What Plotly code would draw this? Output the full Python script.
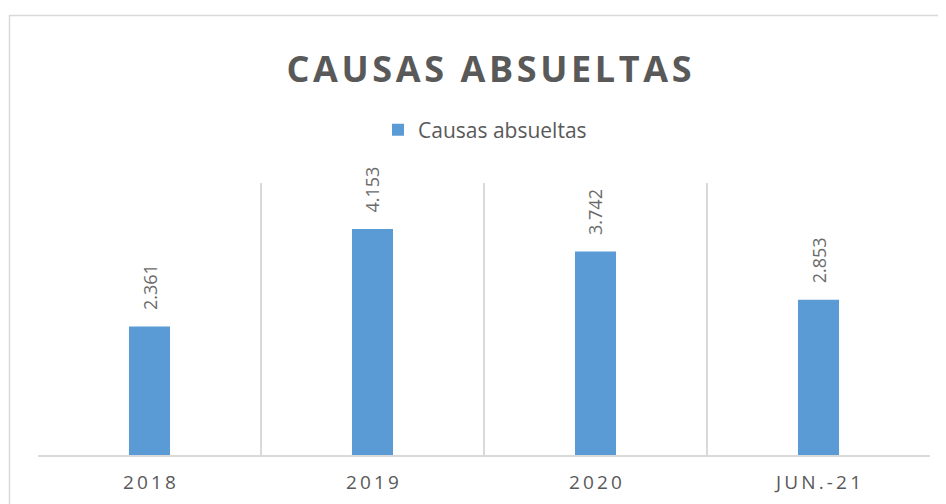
import plotly.graph_objects as go

categories = ["2018", "2019", "2020", "JUN.-21"]
values = [2361, 4153, 3742, 2853]
series_name = "Causas absueltas"
title_text = "CAUSAS ABSUELTAS"

GREY = "#595959"
LABEL_GREY = "#6b6b6b"
BLUE = "#5b9bd5"
LINE = "#d9d9d9"
FONT = "Open Sans, sans-serif"

def spaced(s, sep="\u200a"):
    return sep.join(list(s))

OFF = 8  # default body margin of the page
W, H = 946 - OFF, 504 - OFF
L, T = 38 - OFF, 183 - OFF
R = W - (930 - OFF)
B = H - (455 - OFF)
pw, ph = W - L - R, H - T - B

def px2x(p):
    return (p - OFF - L) / pw

def py2y(p):
    return 1 - (p - OFF - T) / ph

fig = go.Figure()
fig.add_trace(go.Bar(
    x=categories, y=values, name=series_name,
    marker=dict(color=BLUE, line=dict(width=0)),
    width=0.184, showlegend=True,
))

annotations = [
    dict(x=i, y=v, xref="x", yref="y", text=f"{v:,}".replace(",", "."),
         textangle=-90, showarrow=False, xanchor="center", yanchor="bottom",
         yshift=14, font=dict(family=FONT, size=18, color=LABEL_GREY))
    for i, v in enumerate(values)
]

fig.update_layout(
    width=W, height=H,
    margin=dict(l=L, r=R, t=T, b=B, autoexpand=False),
    paper_bgcolor="white", plot_bgcolor="white",
    separators=",.",
    title=dict(text="<b>" + spaced(title_text, "\u200a") + "</b>",
               x=px2x(489), xref="paper", xanchor="center",
               y=1 - (69 - OFF) / H, yref="container", yanchor="middle",
               font=dict(family=FONT, size=36, color=GREY)),
    legend=dict(orientation="h", x=px2x(485), xanchor="center",
                y=py2y(130), yanchor="middle",
                font=dict(family=FONT, size=21, color=GREY),
                itemwidth=30),
    bargap=0.816,
    annotations=annotations,
    xaxis=dict(type="category", tickson="boundaries", showgrid=True,
               gridcolor=LINE, gridwidth=1.5, showline=True, linecolor=LINE, linewidth=1.5,
               ticks="", ticklabelstandoff=9,
               tickmode="array", tickvals=categories,
               ticktext=[spaced(c, "\u2009") for c in categories],
               tickfont=dict(family=FONT, size=19, color=GREY),
               range=[-0.5, 3.5]),
    yaxis=dict(range=[0, 5000], showgrid=False, showticklabels=False,
               zeroline=False, showline=False, ticks=""),
    shapes=[dict(type="rect", xref="paper", yref="paper",
                 x0=px2x(9.5), x1=px2x(960), y0=py2y(520), y1=py2y(15.5),
                 line=dict(color=LINE, width=1.5), fillcolor="rgba(0,0,0,0)",
                 layer="below")],
)

fig.write_html("out.html")
